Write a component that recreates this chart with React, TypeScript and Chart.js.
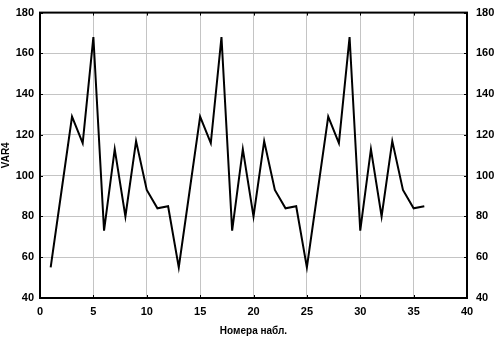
import React, { useEffect, useRef } from "react";
import { Chart, registerables } from "chart.js";

Chart.register(...registerables);

const observations = [
  1, 2, 3, 4, 5, 6, 7, 8, 9, 10, 11, 12,
  13, 14, 15, 16, 17, 18, 19, 20, 21, 22, 23, 24,
  25, 26, 27, 28, 29, 30, 31, 32, 33, 34, 35, 36,
];
const var4 = [
  55, 92, 129, 116, 168, 73, 113, 80, 117, 93, 84, 85,
  55, 92, 129, 116, 168, 73, 113, 80, 117, 93, 84, 85,
  55, 92, 129, 116, 168, 73, 113, 80, 117, 93, 84, 85,
];
const xTitle = "Номера набл.";
const yTitle = "VAR4";

const FONT = "'Liberation Sans', Arial, sans-serif";

const framePlugin = {
  id: "frame",
  afterDraw(chart: any) {
    const { ctx, chartArea, scales } = chart;
    const { left, right, top, bottom } = chartArea;
    ctx.save();
    ctx.strokeStyle = "#000";
    ctx.lineWidth = 1;
    ctx.beginPath();
    scales.x.ticks.forEach((t: any) => {
      const px = Math.round(scales.x.getPixelForValue(t.value)) + 0.5;
      ctx.moveTo(px, bottom);
      ctx.lineTo(px, bottom - 3);
      ctx.moveTo(px, top);
      ctx.lineTo(px, top + 3);
    });
    scales.y.ticks.forEach((t: any) => {
      const py = Math.round(scales.y.getPixelForValue(t.value)) + 0.5;
      ctx.moveTo(left, py);
      ctx.lineTo(left + 3, py);
      ctx.moveTo(right, py);
      ctx.lineTo(right - 3, py);
    });
    ctx.stroke();
    ctx.lineWidth = 2;
    ctx.strokeRect(left, top, right - left, bottom - top);
    ctx.restore();
  },
};

export default function App() {
  const ref = useRef<HTMLCanvasElement>(null);
  useEffect(() => {
    const grid = {
      color: "#c4c4c4",
      lineWidth: 1,
      drawTicks: false,
    };
    const tickFont = { family: FONT, size: 11, weight: "bold" as const };
    const chart = new Chart(ref.current!, {
      type: "line",
      data: {
        datasets: [
          {
            data: observations.map((o, i) => ({ x: o, y: var4[i] })),
            borderColor: "#000",
            borderWidth: 2,
            pointRadius: 0,
            tension: 0,
            fill: false,
          },
        ],
      },
      options: {
        animation: false,
        responsive: false,
        devicePixelRatio: 1,
        layout: { padding: { top: 9, left: 0, right: 0, bottom: 0 } },
        plugins: { legend: { display: false }, tooltip: { enabled: false } },
        scales: {
          x: {
            type: "linear",
            min: 0,
            max: 40,
            ticks: { stepSize: 5, color: "#000", font: tickFont, padding: 7 },
            grid: { ...grid, borderDash: [2, 1] } as any,
            border: { display: false },
            title: {
              display: true,
              text: xTitle,
              color: "#000",
              font: { family: FONT, size: 10, weight: "bold" },
              padding: { top: 5, bottom: 0 },
            },
            afterFit(s: any) {
              s.height = 39;
            },
          },
          y: {
            type: "linear",
            position: "left",
            min: 40,
            max: 180,
            ticks: { stepSize: 20, color: "#000", font: tickFont, padding: 6 },
            grid: { ...grid, borderDash: [1, 2] } as any,
            border: { display: false },
            title: {
              display: true,
              text: yTitle,
              color: "#000",
              font: { family: FONT, size: 10, weight: "bold" },
              padding: { top: 0, bottom: 0 },
            },
            afterFit(s: any) {
              s.width = 40;
            },
          },
          y2: {
            type: "linear",
            position: "right",
            min: 40,
            max: 180,
            ticks: { stepSize: 20, color: "#000", font: tickFont, padding: 1 },
            grid: { display: false },
            border: { display: false },
            afterFit(s: any) {
              s.width = 29;
            },
          },
        },
      } as any,
      plugins: [framePlugin],
    });
    return () => chart.destroy();
  }, []);
  return (
    <div style={{ position: "fixed", left: 0, top: 0, width: 496, height: 337, background: "#fff" }}>
      <canvas ref={ref} width={496} height={337} style={{ width: 496, height: 337, display: "block" }} />
    </div>
  );
}
